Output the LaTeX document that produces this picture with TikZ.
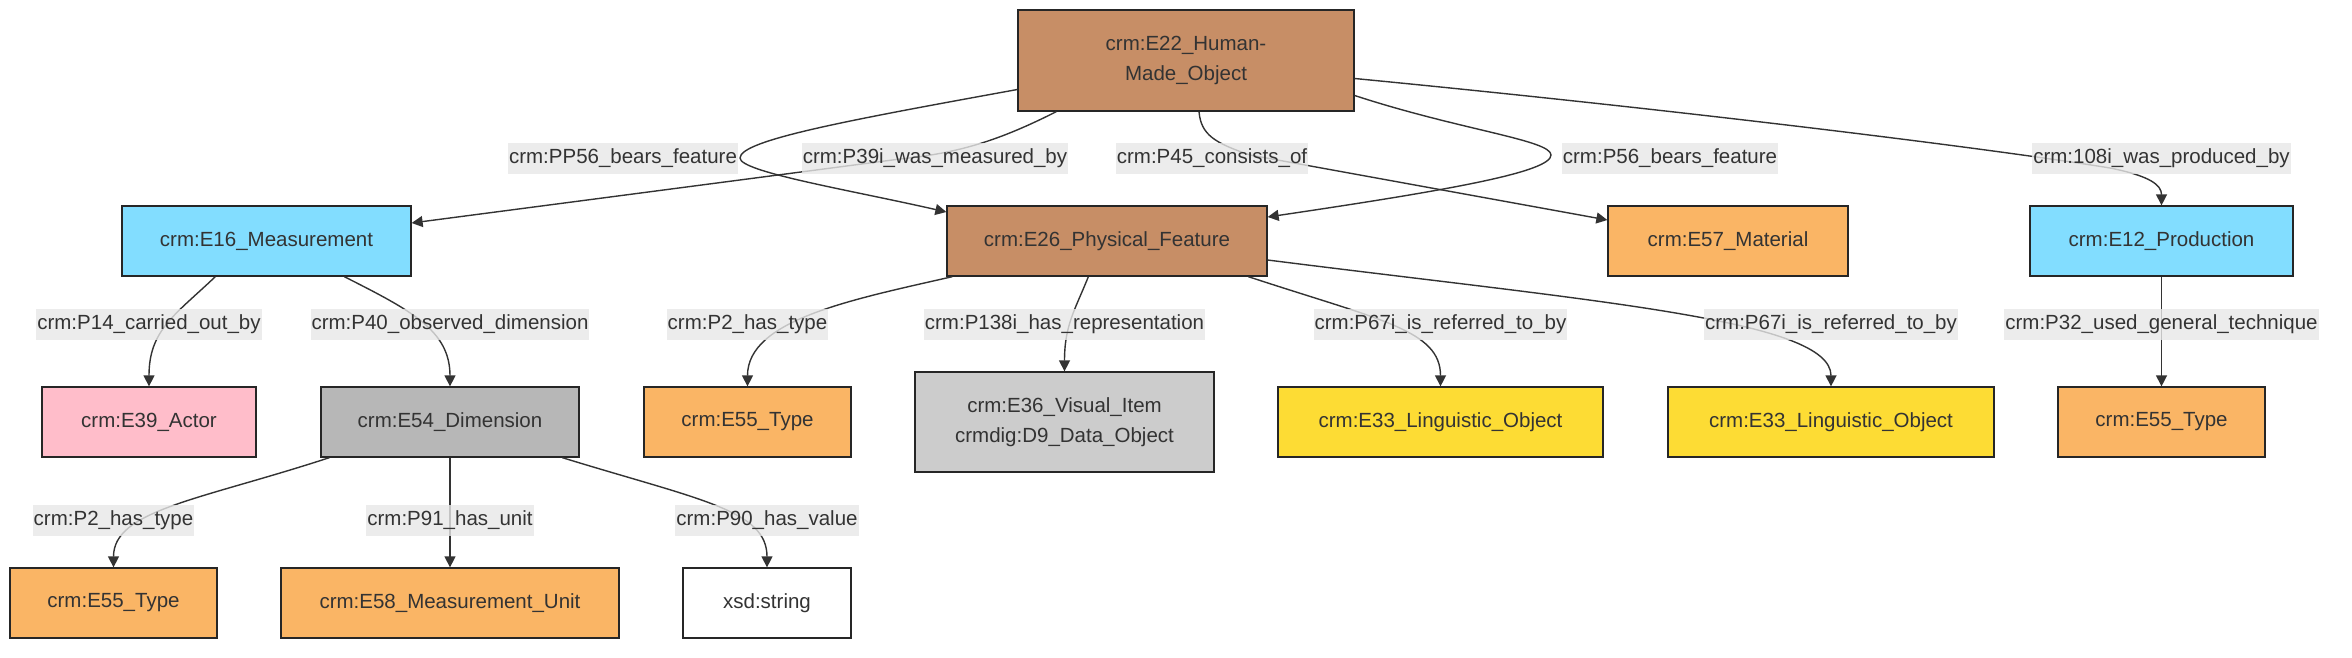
\documentclass[tikz,border=0pt]{standalone}
\usepackage{fontspec}
\setmainfont{Liberation Sans}
\usetikzlibrary{arrows.meta,calc}
\definecolor{brownc}{HTML}{C78E66}
\definecolor{bluec}{HTML}{82DDFF}
\definecolor{orangec}{HTML}{FAB565}
\definecolor{pinkc}{HTML}{FFBDCA}
\definecolor{grayc}{HTML}{B7B7B7}
\definecolor{lgrayc}{HTML}{CCCCCC}
\definecolor{yellowc}{HTML}{FDDC34}
\definecolor{lblbg}{HTML}{E8E8E8}
\definecolor{txt}{HTML}{333333}
\definecolor{edgec}{HTML}{333333}
\tikzset{
  box/.style={draw=black!85, line width=1.3pt, text=txt, align=center,
    font=\fontsize{20.5}{30}\selectfont, inner sep=0pt, minimum height=70pt},
  lbl/.style={fill=lblbg, fill opacity=0.8, text opacity=1, text=txt,
    font=\fontsize{20.5}{25}\selectfont, inner xsep=1pt, inner ysep=0pt,
    minimum height=31pt},
  edge/.style={draw=edgec, line width=1.4pt, -{Triangle[length=11pt,width=11pt]}},
}
\begin{document}
\begin{tikzpicture}[x=1pt,y=-1pt]
\useasboundingbox[fill=white] (0,0) rectangle (2352,657);
% nodes
\node[box, fill=brownc, minimum width=336pt, minimum height=101pt] (e22) at (1186,60.5) {crm:E22\_Human-\\Made\_Object};
\node[box, fill=bluec, minimum width=289pt] (e16) at (266.5,241) {crm:E16\_Measurement};
\node[box, fill=brownc, minimum width=320pt] (e26) at (1107,241) {crm:E26\_Physical\_Feature};
\node[box, fill=orangec, minimum width=240pt] (e57) at (1728,241) {crm:E57\_Material};
\node[box, fill=bluec, minimum width=263pt] (e12) at (2161.5,241) {crm:E12\_Production};
\node[box, fill=pinkc, minimum width=214pt] (e39) at (149,422) {crm:E39\_Actor};
\node[box, fill=grayc, minimum width=258pt] (e54) at (450,422) {crm:E54\_Dimension};
\node[box, fill=orangec, minimum width=207pt] (e55a) at (747.5,422) {crm:E55\_Type};
\node[box, fill=lgrayc, minimum width=299pt, minimum height=100pt] (e36) at (1064.5,422) {crm:E36\_Visual\_Item\\crmdig:D9\_Data\_Object};
\node[box, fill=yellowc, minimum width=325pt] (e33a) at (1440.5,422) {crm:E33\_Linguistic\_Object};
\node[box, fill=yellowc, minimum width=326pt] (e33b) at (1831,422) {crm:E33\_Linguistic\_Object};
\node[box, fill=orangec, minimum width=207pt] (e55c) at (2161.5,422) {crm:E55\_Type};
\node[box, fill=orangec, minimum width=207pt] (e55b) at (113.5,603) {crm:E55\_Type};
\node[box, fill=orangec, minimum width=338pt] (e58) at (450,603) {crm:E58\_Measurement\_Unit};
\node[box, fill=white, minimum width=168pt] (xsd) at (767,603) {xsd:string};
% edges
\draw[edge] ($(e22.south west)+(39,0)$) .. controls (1000,140) and (960,153) .. (900,159) -- ($(e16.east)+(0,-18)$);
\draw[edge] ($(e22.west)+(0,29)$) .. controls (850,120) and (740,140) .. (740,158) .. controls (740,172) and (850,190) .. ($(e26.west)+(0,-29)$);
\draw[edge] ($(e22.south)+(13,0)$) .. controls (1201,135) and (1215,143) .. (1250,155) -- ($(e57.west)+(0,-21)$);
\draw[edge] ($(e22.east)+(0,35)$) .. controls (1460,130) and (1551,140) .. (1551,155) .. controls (1551,172) and (1450,190) .. ($(e26.east)+(0,-24)$);
\draw[edge] ($(e22.east)+(0,18)$) .. controls (1700,112) and (2000,150) .. (2110,168) .. controls (2150,176) and (2161.5,185) .. (e12.north);
\draw[edge] ($(e16.south west)+(94,0)$) .. controls (175,315) and (149,330) .. (e39.north);
\draw[edge] ($(e16.south west)+(223,0)$) .. controls (410,310) and (450,330) .. (e54.north);
\draw[edge] ($(e26.south west)+(6,0)$) .. controls (850,300) and (747.5,320) .. (e55a.north);
\draw[edge] ($(e26.south west)+(142,0)$) .. controls (1075,310) and (1064.5,325) .. (e36.north);
\draw[edge] ($(e26.south west)+(302,0)$) .. controls (1380,320) and (1440.5,330) .. (e33a.north);
\draw[edge] ($(e26.east)+(0,19)$) .. controls (1600,302) and (1831,320) .. (e33b.north);
\draw[edge] (e12.south) -- (e55c.north);
\draw[edge] ($(e54.south west)+(9,0)$) .. controls (200,500) and (113.5,510) .. (e55b.north);
\draw[edge] (e54.south) -- (e58.north);
\draw[edge] ($(e54.south west)+(242,0)$) .. controls (700,500) and (767,510) .. (xsd.north);
% labels
\node[lbl] (l1) at (623,158) {crm:PP56\_bears\_feature};
\node[lbl] (l2) at (935,158) {crm:P39i\_was\_measured\_by};
\node[lbl] (l3) at (1212,158) {crm:P45\_consists\_of};
\node[lbl] (l4) at (1670,158) {crm:P56\_bears\_feature};
\node[lbl] (l5) at (2161.5,158) {crm:108i\_was\_produced\_by};
\node[lbl] (l6) at (149,324) {crm:P14\_carried\_out\_by};
\node[lbl] (l7) at (450,324) {crm:P40\_observed\_dimension};
\node[lbl] (l8) at (747.5,324) {crm:P2\_has\_type};
\node[lbl] (l9) at (1064.5,324) {crm:P138i\_has\_representation};
\node[lbl] (l10) at (1440.5,324) {crm:P67i\_is\_referred\_to\_by};
\node[lbl] (l11) at (1831,324) {crm:P67i\_is\_referred\_to\_by};
\node[lbl] (l12) at (2161.5,324) {crm:P32\_used\_general\_technique};
\node[lbl] (l13) at (113.5,520) {crm:P2\_has\_type};
\node[lbl] (l14) at (450,520) {crm:P91\_has\_unit};
\node[lbl] (l15) at (767,520) {crm:P90\_has\_value};
\end{tikzpicture}
\end{document}
